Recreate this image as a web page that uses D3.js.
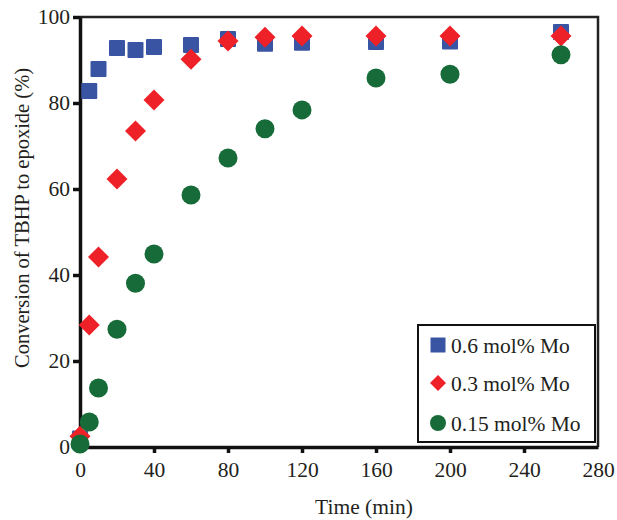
<!DOCTYPE html>
<html>
<head>
<meta charset="utf-8">
<script src="https://cdn.jsdelivr.net/npm/d3@7"></script>
<style>
  body { margin: 0; background: #fff; }
  svg text { font-family: "Liberation Serif", "Times New Roman", serif; fill: #231f20; }
</style>
</head>
<body>
<svg width="617" height="520"></svg>
<script>
(function() {
  // data
  var times = [0, 5, 10, 20, 30, 40, 60, 80, 100, 120, 160, 200, 260];
  var mo06 = [2, 82.8, 87.9, 92.8, 92.3, 93.0, 93.5, 94.9, 93.8, 94.0, 94.2, 94.3, 96.5];
  var mo03 = [2.5, 28.4, 44.2, 62.3, 73.5, 80.7, 90.2, 94.4, 95.3, 95.6, 95.6, 95.6, 95.6];
  var mo015 = [0.7, 5.8, 13.7, 27.4, 38.1, 44.9, 58.6, 67.2, 74.0, 78.4, 85.8, 86.7, 91.2];
  var seriesNames = ["0.6 mol% Mo", "0.3 mol% Mo", "0.15 mol% Mo"];
  var xTicks = [0, 40, 80, 120, 160, 200, 240, 280];
  var yTicks = [0, 20, 40, 60, 80, 100];

  var svg = d3.select("svg");
  var left = 80, right = 598, top = 17, bottom = 447;
  var fs = 21.5;

  var x = d3.scaleLinear().domain([0, 280]).range([left, right]);
  var y = d3.scaleLinear().domain([0, 100]).range([bottom, top]);

  var colors = ["#3a54a4", "#ee2128", "#166b38"];

  // frame (top / right)
  svg.append("path")
      .attr("d", "M" + left + "," + top + "H" + right + "V" + bottom)
      .attr("fill", "none")
      .attr("stroke", "#222")
      .attr("stroke-width", 2.5);

  var xAxis = svg.append("g")
      .attr("transform", "translate(0," + bottom + ")")
      .call(d3.axisBottom(x).tickValues(xTicks).tickSize(6).tickSizeOuter(0).tickPadding(9));

  var yAxis = svg.append("g")
      .attr("transform", "translate(" + left + ",0)")
      .call(d3.axisLeft(y).tickValues(yTicks).tickSize(7).tickSizeOuter(0).tickPadding(3));

  [xAxis, yAxis].forEach(function(a) {
    a.select(".domain").attr("stroke", "#111").attr("stroke-width", 3.5);
    a.selectAll(".tick line").attr("stroke", "#111").attr("stroke-width", 3.5);
    a.selectAll(".tick text")
        .attr("font-size", fs)
        .style("font-family", "Liberation Serif, serif");
  });
  xAxis.selectAll(".tick")
      .filter(function(d) { return d === 0 || d === 280; })
      .select("line").remove();

  svg.append("text")
      .attr("x", 364)
      .attr("y", 514)
      .attr("text-anchor", "middle")
      .attr("font-size", fs)
      .text("Time (min)");

  svg.append("text")
      .attr("transform", "translate(29,218) rotate(-90)")
      .attr("text-anchor", "middle")
      .attr("font-size", 20.5)
      .text("Conversion of TBHP to epoxide (%)");

  function pts(vals) {
    return times.map(function(t, i) { return [t, vals[i]]; });
  }

  // 0.6 mol% squares
  svg.append("g").selectAll("rect")
    .data(pts(mo06))
    .enter().append("rect")
      .attr("x", function(d) { return x(d[0]) - 8; })
      .attr("y", function(d) { return y(d[1]) - 8; })
      .attr("width", 16)
      .attr("height", 16)
      .attr("rx", 1)
      .attr("fill", colors[0]);

  // 0.3 mol% diamonds
  var diamond = "M0,-10.5L10.5,0L0,10.5L-10.5,0Z";
  svg.append("g").selectAll("path")
    .data(pts(mo03))
    .enter().append("path")
      .attr("transform", function(d) { return "translate(" + x(d[0]) + "," + y(d[1]) + ")"; })
      .attr("d", diamond)
      .attr("fill", colors[1]);

  // 0.15 mol% circles
  svg.append("g").selectAll("circle")
    .data(pts(mo015))
    .enter().append("circle")
      .attr("cx", function(d) { return x(d[0]); })
      .attr("cy", function(d) { return y(d[1]); })
      .attr("r", 9.5)
      .attr("fill", colors[2]);

  // legend
  var lg = svg.append("g");
  lg.append("rect")
      .attr("x", 418).attr("y", 325)
      .attr("width", 177).attr("height", 117)
      .attr("fill", "#fff")
      .attr("stroke", "#111")
      .attr("stroke-width", 2);

  var rows = [345, 383, 423];
  seriesNames.forEach(function(name, i) {
    var cy = rows[i], cx = 438;
    if (i === 0) {
      lg.append("rect").attr("x", cx - 7.5).attr("y", cy - 7.5)
        .attr("width", 15).attr("height", 15).attr("fill", colors[0]);
    } else if (i === 1) {
      lg.append("path").attr("transform", "translate(" + cx + "," + cy + ")")
        .attr("d", "M0,-8L8,0L0,8L-8,0Z").attr("fill", colors[1]);
    } else {
      lg.append("circle").attr("cx", cx).attr("cy", cy).attr("r", 8).attr("fill", colors[2]);
    }
    lg.append("text")
        .attr("x", 451)
        .attr("y", cy)
        .attr("dy", "0.35em")
        .attr("font-size", fs)
        .text(name);
  });
})();
</script>
</body>
</html>
